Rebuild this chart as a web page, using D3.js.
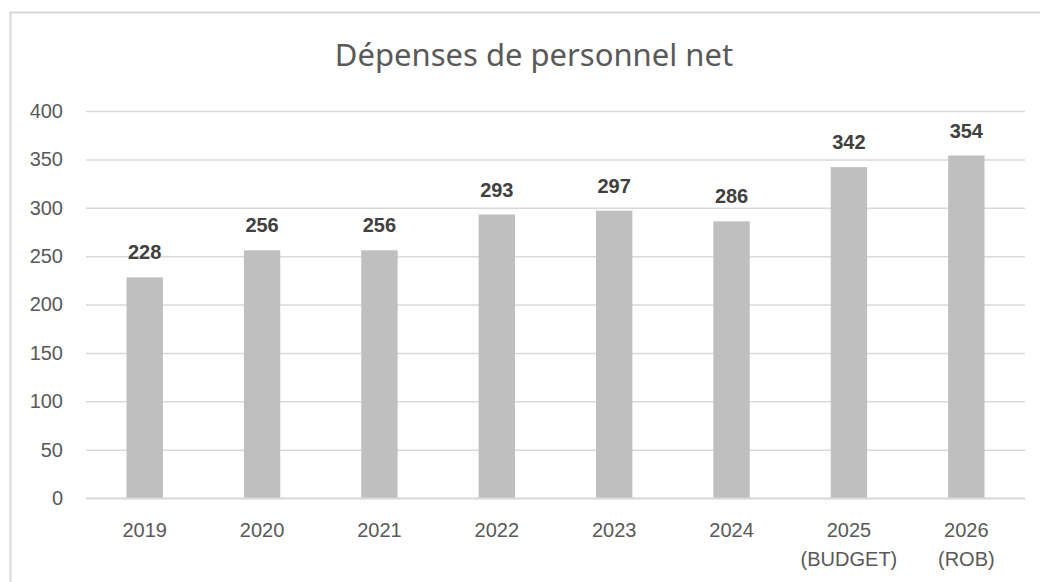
<!DOCTYPE html>
<html>
<head>
<meta charset="utf-8">
<script src="https://cdn.jsdelivr.net/npm/d3@7"></script>
<style>
  body { margin: 0; background: #fff; }
  svg { display: block; }
</style>
</head>
<body>
<div id="chart"></div>
<script>
const categories = ['2019', '2020', '2021', '2022', '2023', '2024', '2025\n(BUDGET)', '2026\n(ROB)'];
const values = [228, 256, 256, 293, 297, 286, 342, 354];
const yTicks = [0, 50, 100, 150, 200, 250, 300, 350, 400];
const title = 'Dépenses de personnel net';

const W = 1040, H = 582;
const margin = {top: 111, right: 15, bottom: 84, left: 86};
const width = W - margin.left - margin.right;
const height = H - margin.top - margin.bottom;

const svg = d3.select('#chart').append('svg')
  .attr('width', W)
  .attr('height', H);

// outer frame (right/bottom edges fall outside the window)
svg.append('rect')
  .attr('x', 10.5).attr('y', 12.5)
  .attr('width', W + 20).attr('height', H + 20)
  .attr('fill', 'none')
  .attr('stroke', '#d9d9d9')
  .attr('stroke-width', 2);

svg.append('text')
  .attr('x', 534).attr('y', 66)
  .attr('text-anchor', 'middle')
  .style('font-family', '"Noto Sans", sans-serif')
  .style('font-size', '31px')
  .style('fill', '#595959')
  .text(title);

const g = svg.append('g')
  .attr('transform', 'translate(' + margin.left + ',' + margin.top + ')');

const x = d3.scaleBand()
  .domain(categories)
  .range([0, width])
  .paddingInner(0.69)
  .paddingOuter(0.345);

const y = d3.scaleLinear()
  .domain([0, 400])
  .range([height, 0]);

// gridlines + y labels
const yAxis = d3.axisLeft(y)
  .tickValues(yTicks)
  .tickSize(-width)
  .tickPadding(23);

g.append('g')
  .call(yAxis)
  .call(ax => {
    ax.select('.domain').remove();
    ax.selectAll('.tick line').attr('stroke', '#d9d9d9').attr('stroke-width', 1.5);
    ax.selectAll('.tick text')
      .style('font-family', '"Liberation Sans", Arial, sans-serif')
      .style('font-size', '20px')
      .attr('fill', '#595959');
  });

// bars
g.selectAll('rect.bar')
  .data(values)
  .enter().append('rect')
  .attr('class', 'bar')
  .attr('x', (d, i) => x(categories[i]))
  .attr('width', x.bandwidth())
  .attr('y', d => y(d))
  .attr('height', d => height - y(d))
  .attr('fill', '#bfbfbf');

// baseline drawn over bars
g.append('line')
  .attr('x1', 0).attr('x2', width)
  .attr('y1', height + 0.5).attr('y2', height + 0.5)
  .attr('stroke', '#d9d9d9')
  .attr('stroke-width', 2);

// data labels
g.selectAll('text.val')
  .data(values)
  .enter().append('text')
  .attr('class', 'val')
  .attr('x', (d, i) => x(categories[i]) + x.bandwidth() / 2)
  .attr('y', d => y(d) - 18)
  .attr('text-anchor', 'middle')
  .style('font-family', '"Liberation Sans", Arial, sans-serif')
  .style('font-size', '20px')
  .style('font-weight', 'bold')
  .attr('fill', '#404040')
  .text(d => d);

// x axis labels
const xAxis = d3.axisBottom(x).tickSize(0).tickPadding(0).tickFormat('');
const xg = g.append('g')
  .attr('transform', 'translate(0,' + height + ')')
  .call(xAxis);
xg.select('.domain').remove();
xg.selectAll('.tick').each(function(d) {
  const lines = d.split('\n');
  const t = d3.select(this).append('text')
    .attr('text-anchor', 'middle')
    .style('font-family', '"Liberation Sans", Arial, sans-serif')
    .style('font-size', '20px')
    .attr('fill', '#595959');
  lines.forEach((l, i) => {
    t.append('tspan').attr('x', 0).attr('y', 39 + i * 29).text(l);
  });
});
</script>
</body>
</html>
